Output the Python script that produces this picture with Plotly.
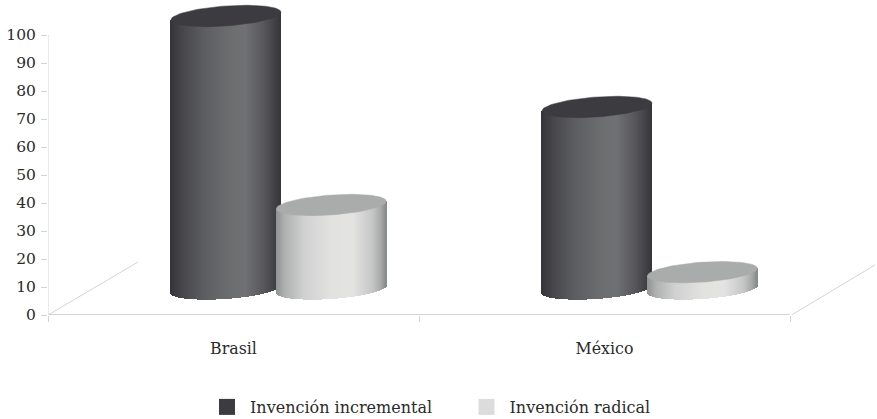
import math
import plotly.graph_objects as go

# Chart data
categories = ["Brasil", "México"]
series_names = ["Invención incremental", "Invención radical"]
incremental = [97.5, 65]
radical = [30, 6]
y_ticks = [0, 10, 20, 30, 40, 50, 60, 70, 80, 90, 100]

# Figure and plot-box geometry in pixels
W, H = 877, 419
L, R, T, B = 48, 790, 35, 315
BOTTOM_MARGIN = 40          # reserved below the plotting area, leaves room for the legend
PLOT_H = H - BOTTOM_MARGIN
PX_X = 2 / (R - L)          # x-axis units per pixel
PX_Y = 100 / (B - T)        # y-axis units per pixel
X_MAX = (W - L) * PX_X      # the x axis runs on past 2 to hold the floor edge
Y_MAX = (B - 1) * PX_Y      # the y axis runs on past 100 to hold the tallest cap

# Cylinder geometry: offsets from the category centre, in pixels
RADIUS = 55
OFFSETS = {0: -7.5, 1: 97.8}
TILT = 3.8
MINOR = 10
FLOOR = 9.3                 # depth of the floor under the cylinders, in y units
SLICES = 110

grad_dark = [(0, "#34343a"), (0.1, "#444449"), (0.3, "#5c5d60"), (0.55, "#6c6d6f"),
             (0.68, "#707173"), (0.85, "#58585c"), (0.95, "#424246"), (1, "#36363b")]
grad_light = [(0, "#8e9291"), (0.08, "#aeb1b0"), (0.25, "#cfd0cf"), (0.5, "#e2e2e1"),
              (0.7, "#e3e3e2"), (0.88, "#c4c6c5"), (0.96, "#a2a5a4"), (1, "#858988")]
top_colors = ["#3c3b40", "#a9acaa"]
swatch_colors = ["#3c3b40", "#dcdcdc"]
axis_color = "#d4d4d4"
text_color = "#2b2b2b"
font_family = "DejaVu Serif"


def ramp(stops, u):
    for (u0, c0), (u1, c1) in zip(stops, stops[1:]):
        if u <= u1:
            f = (u - u0) / (u1 - u0)
            rgb = [round(int(c0[i:i + 2], 16) * (1 - f) + int(c1[i:i + 2], 16) * f)
                   for i in (1, 3, 5)]
            return "rgb({},{},{})".format(*rgb)
    return stops[-1][1]


def cylinder(center_px, value, stops, top_color):
    """Body as vertical slices running between two tilted ellipses."""
    xs, bases, heights, colors, widths = [], [], [], [], []
    for i in range(SLICES):
        u = (i + 0.5) / SLICES
        s = 2 * u - 1
        bottom = FLOOR + (TILT * s - MINOR * math.sqrt(1 - s * s)) * PX_Y
        top = FLOOR + value + TILT * s * PX_Y
        xs.append((center_px + s * RADIUS - L) * PX_X)
        bases.append(bottom)
        heights.append(top - bottom)
        colors.append(ramp(stops, u))
        widths.append(2 * RADIUS / SLICES * 1.25 * PX_X)
    body = go.Bar(x=xs, y=heights, base=bases, width=widths,
                  marker=dict(color=colors, line=dict(width=0)),
                  showlegend=False, hoverinfo="skip")
    ex, ey = [], []
    for i in range(121):
        t = 2 * math.pi * i / 120
        ex.append((center_px + RADIUS * math.cos(t) - L) * PX_X)
        ey.append(FLOOR + value + (TILT * math.cos(t) + MINOR * math.sin(t)) * PX_Y)
    cap = go.Scatter(x=ex, y=ey, mode="lines", fill="toself", fillcolor=top_color,
                     line=dict(color=top_color, width=0.5),
                     showlegend=False, hoverinfo="skip")
    return body, cap


fig = go.Figure()
category_centers = [0.5, 1.5]
caps = []
for c, center in enumerate(category_centers):
    center_px = L + center / PX_X
    for s, (values, stops) in enumerate(((incremental, grad_dark), (radical, grad_light))):
        body, cap = cylinder(center_px + OFFSETS[s], values[c], stops, top_colors[s])
        fig.add_trace(body)
        caps.append(cap)
for cap in caps:
    fig.add_trace(cap)


def rule(x, y, width):
    fig.add_trace(go.Scatter(x=x, y=y, mode="lines", line=dict(color=axis_color, width=width),
                             showlegend=False, hoverinfo="skip"))


# Axis lines end at the last category and at 100
rule([0, 0], [0, 100], 1)
rule([0, 2], [0, 0], 2)

# Receding floor edges at both ends of the category axis
for x0_px, y0_px, x1_px, y1_px in ((L, 315, 138, 262), (R, 316, 875, 265)):
    rule([(x0_px - L) * PX_X, (x1_px - L) * PX_X],
         [(B - y0_px) * PX_Y, (B - y1_px) * PX_Y], 1)

# Legend entries
for name, color in zip(series_names, swatch_colors):
    fig.add_trace(go.Scatter(x=[None], y=[None], mode="markers", name=name,
                             marker=dict(symbol="square", size=16, color=color)))

fig.update_layout(
    width=W, height=H, autosize=False,
    margin=dict(l=0, r=0, t=0, b=BOTTOM_MARGIN),
    paper_bgcolor="white", plot_bgcolor="white",
    barmode="overlay", bargap=0,
    font=dict(family=font_family, size=15, color=text_color),
    xaxis=dict(domain=[L / W, 1], range=[0, X_MAX], tickmode="array", tickvals=category_centers,
               ticktext=categories, ticks="", showgrid=False, zeroline=False,
               showline=False, automargin=False,
               ticklabelstandoff=22, tickfont=dict(size=15.8),
               minor=dict(tickmode="array", tickvals=[0, 1, 2], ticks="outside",
                          ticklen=6, tickcolor=axis_color, showgrid=False)),
    yaxis=dict(domain=[1 - B / PLOT_H, 1 - 1 / PLOT_H], range=[0, Y_MAX], tickmode="array",
               tickvals=y_ticks, ticks="outside", ticklen=6, tickcolor=axis_color, showgrid=False,
               zeroline=False, showline=False, automargin=False,
               ticklabelstandoff=2, tickfont=dict(size=15.5)),
    legend=dict(orientation="h", xref="container", yref="container",
                x=204 / W, xanchor="left", y=1 - 390 / H, yanchor="top",
                bgcolor="rgba(0,0,0,0)", itemsizing="trace", itemwidth=36,
                font=dict(size=16), entrywidth=208.5, entrywidthmode="pixels"),
)

fig.write_html("out.html")
